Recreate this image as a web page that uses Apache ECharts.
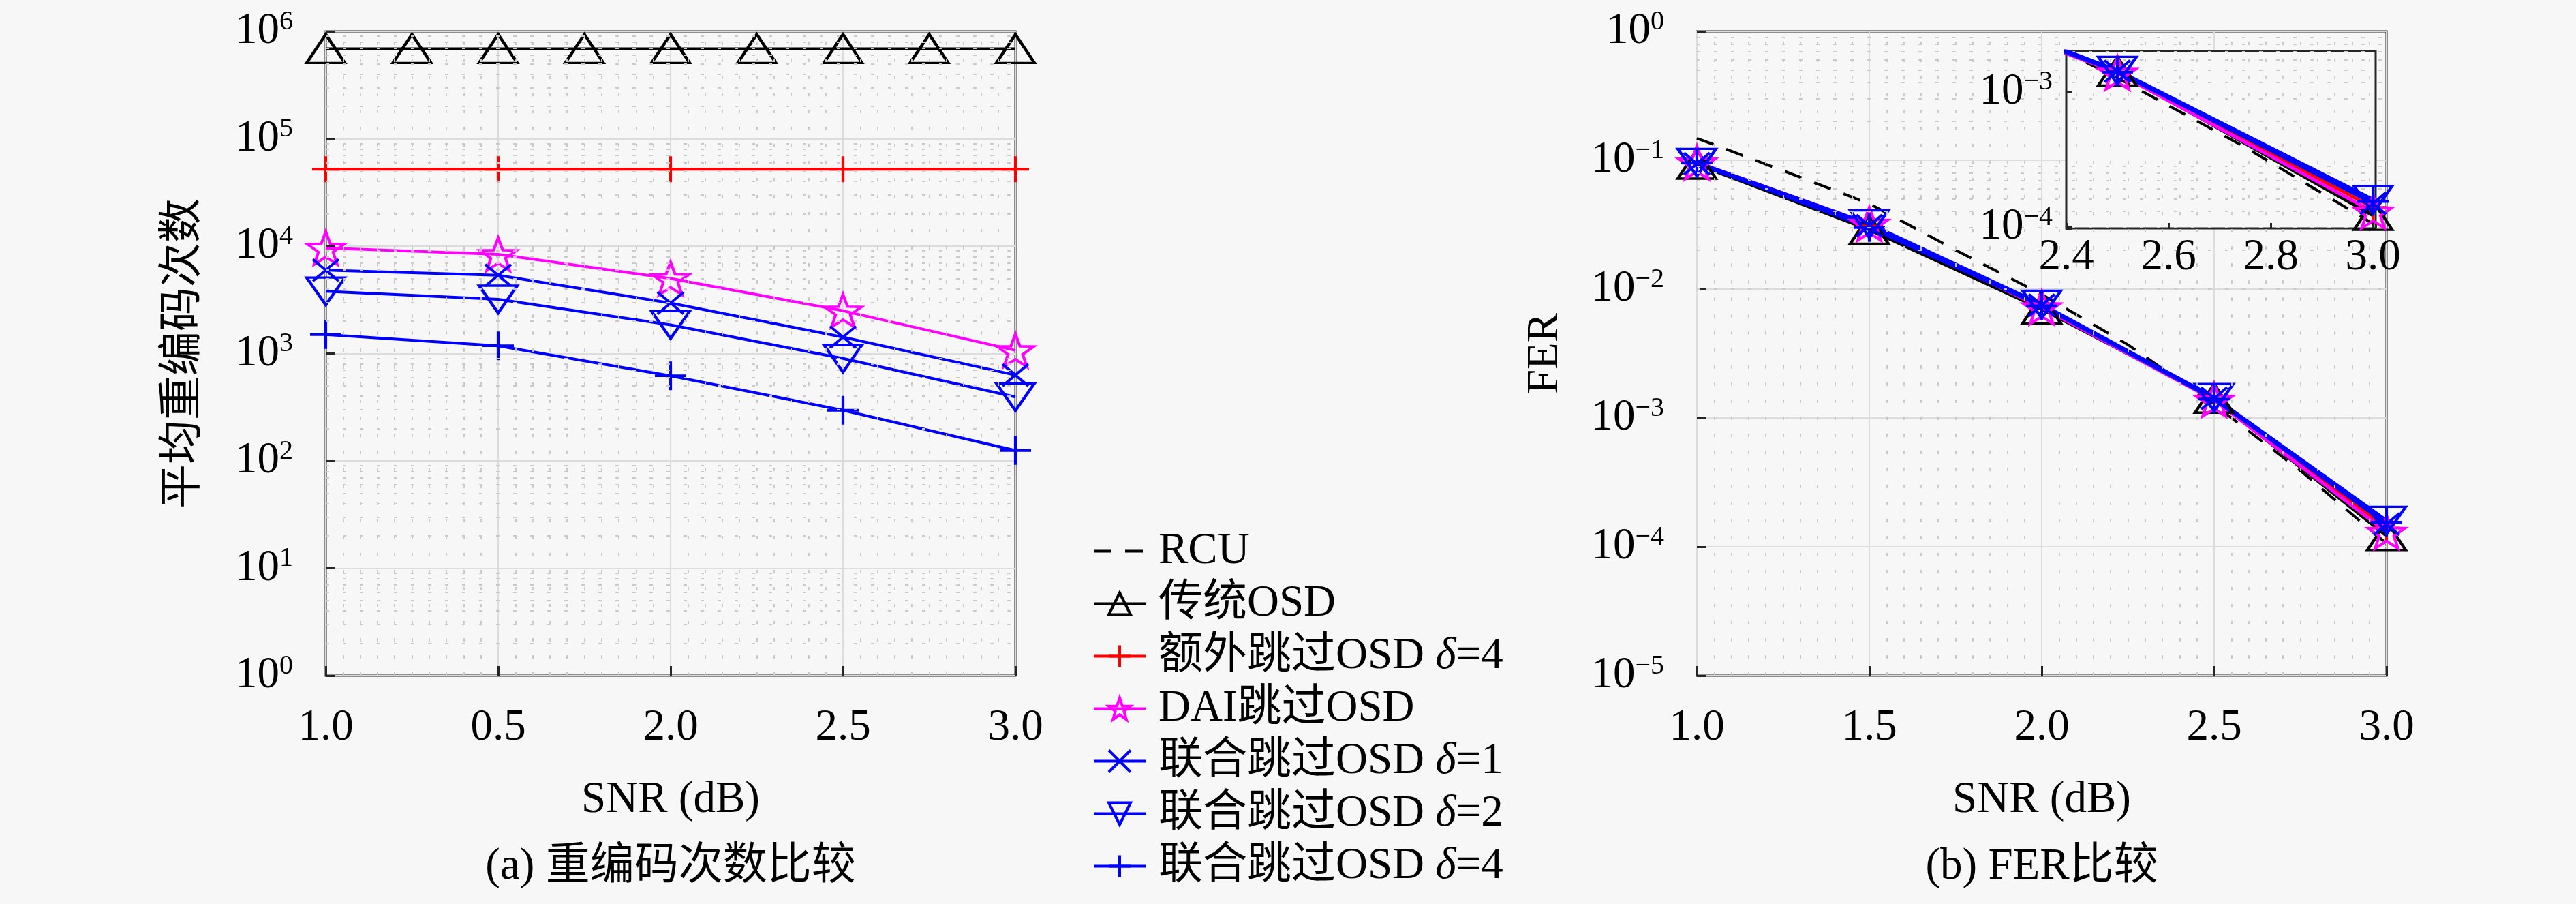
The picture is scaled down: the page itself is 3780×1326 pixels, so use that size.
<!DOCTYPE html>
<html>
<head>
<meta charset="utf-8">
<title>OSD</title>
<script src="https://cdn.jsdelivr.net/npm/echarts@6/dist/echarts.min.js"></script>
<style>
html,body{margin:0;padding:0;background:#f7f7f7}
#main{width:3780px;height:1326px}
</style>
</head>
<body>
<div id="main"></div>
<script>
// x positions
var snr = [1.0, 1.5, 2.0, 2.5, 3.0];
var snrQuarter = [1.0, 1.25, 1.5, 1.75, 2.0, 2.25, 2.5, 2.75, 3.0];
var xTicksA = ['1.0', '0.5', '2.0', '2.5', '3.0'];

// (a) average re-encoding counts
var reTrad = [6.9e5, 6.9e5, 6.9e5, 6.9e5, 6.9e5, 6.9e5, 6.9e5, 6.9e5, 6.9e5];
var reExtra = [5.2e4, 5.2e4, 5.2e4, 5.2e4, 5.2e4];
var reDai = [9600, 8400, 5000, 2500, 1070];
var reJoint1 = [5970, 5350, 2950, 1420, 630];
var reJoint2 = [3800, 3200, 1850, 900, 394];
var reJoint4 = [1500, 1180, 620, 296, 125];

// (b) FER
var ferRcu = [0.148, 0.083, 0.046, 0.0201, 0.0091, 3.7e-3, 1.27e-3, 3.9e-4, 1.06e-4];
var ferTrad = [0.093, 0.029, 0.0070, 1.42e-3, 1.22e-4];
var ferExtra = [0.095, 0.031, 0.0073, 1.40e-3, 1.40e-4];
var ferDai = [0.096, 0.032, 0.0072, 1.38e-3, 1.30e-4];
var ferJoint1 = [0.094, 0.031, 0.0075, 1.42e-3, 1.50e-4];
var ferJoint2 = [0.096, 0.032, 0.0076, 1.44e-3, 1.60e-4];
var ferJoint4 = [0.095, 0.030, 0.0074, 1.40e-3, 1.55e-4];

var names = ['RCU', '传统OSD', '额外跳过OSD δ=4', 'DAI跳过OSD', '联合跳过OSD δ=1', '联合跳过OSD δ=2', '联合跳过OSD δ=4'];

var FONT = '"Liberation Serif", "DejaVu Serif", "Noto Sans CJK SC", serif';
var FS = 65;
var BG = '#f7f7f7';
var AX = '#262626';

function starPath() {
    var p = [];
    for (var k = 0; k < 10; k++) {
        var a = (-90 + k * 36) * Math.PI / 180, r = k % 2 ? 0.4 : 1;
        p.push((k ? 'L' : 'M') + (r * Math.cos(a)).toFixed(3) + ',' + (r * Math.sin(a)).toFixed(3));
    }
    return 'path://' + p.join('') + 'Z';
}

var sty = {};
sty[names[0]] = { color: '#000', symbol: 'none', size: 0, dash: [26, 20] };
sty[names[1]] = { color: '#000', symbol: 'triangle', size: [56, 42] };
sty[names[2]] = { color: '#ff0000', symbol: 'path://M5,0L5,10M0,5L10,5', size: [40, 38] };
sty[names[3]] = { color: '#ff00ff', symbol: starPath(), size: [54, 48] };
sty[names[4]] = { color: '#0000ff', symbol: 'path://M0,0L10,10M10,0L0,10', size: [38, 32] };
sty[names[5]] = { color: '#0000ff', symbol: 'triangle', size: [56, 40], rotate: 180 };
sty[names[6]] = { color: '#0000ff', symbol: 'path://M5,0L5,10M0,5L10,5', size: [46, 42] };

function mk(name, xs, ys, gi, lw, z) {
    var s = sty[name];
    return {
        name: name, type: 'line', xAxisIndex: gi, yAxisIndex: gi,
        data: xs.map(function (x, i) { return [x, ys[i]]; }),
        symbol: s.symbol, symbolSize: s.size, symbolRotate: s.rotate || 0,
        showSymbol: s.symbol !== 'none',
        itemStyle: { color: 'transparent', borderColor: s.color, borderWidth: 4 },
        lineStyle: { color: s.color, width: lw, type: s.dash || 'solid' },
        emphasis: { disabled: true }, animation: false, z: z || 3
    };
}

function minorGrid(gi, xmin, xmax, ymin, ymax) {
    var d = [];
    for (var e = Math.floor(Math.log10(ymin)); e < Math.ceil(Math.log10(ymax)); e++) {
        for (var m = 2; m <= 9; m++) {
            var v = m * Math.pow(10, e);
            if (v > ymin && v < ymax) d.push({ yAxis: v });
        }
    }
    for (var i = 1; xmin + i * 0.05 < xmax - 1e-9; i++) {
        if (i % 10) d.push({ xAxis: +(xmin + i * 0.05).toFixed(2) });
    }
    return {
        type: 'line', xAxisIndex: gi, yAxisIndex: gi, data: [], silent: true, z: 1,
        markLine: {
            silent: true, symbol: ['none', 'none'], label: { show: false }, animation: false,
            lineStyle: { type: [5, 20], color: '#cacaca', width: 2 },
            emphasis: { disabled: true }, data: d
        }
    };
}

function powLabel(v) {
    var e = Math.log10(v);
    if (Math.abs(e - Math.round(e)) > 1e-6) return '';
    e = Math.round(e);
    return '{b|10}{s|' + (e < 0 ? '−' + (-e) : e) + '}';
}
var powRich = {
    b: { fontSize: FS, fontFamily: FONT, color: '#000' },
    s: { fontSize: 40, fontFamily: FONT, color: '#000', verticalAlign: 'top', padding: [0, 0, 28, 0] }
};

function xAx(gi, o) {
    return Object.assign({
        gridIndex: gi, type: 'value', min: 1, max: 3, interval: 0.5,
        axisLine: { show: false },
        axisTick: { inside: true, length: 14, lineStyle: { color: AX, width: 3 } },
        splitLine: { show: true, lineStyle: { color: '#dcdcdc', width: 2 } },
        name: 'SNR (dB)', nameLocation: 'middle', nameGap: 150,
        nameTextStyle: { fontSize: FS, fontFamily: FONT, color: '#000' }
    }, o);
}
function yAx(gi, o) {
    return Object.assign({
        gridIndex: gi, type: 'log', logBase: 10,
        axisLine: { show: false },
        axisTick: { inside: true, length: 14, lineStyle: { color: AX, width: 3 } },
        splitLine: { show: true, lineStyle: { color: '#dcdcdc', width: 2 } },
        axisLabel: { formatter: powLabel, rich: powRich, margin: 48 },
        nameLocation: 'middle',
        nameTextStyle: { fontSize: FS, fontFamily: FONT, color: '#000' }
    }, o);
}

var series = [
    minorGrid(0, 1, 3, 1, 1e6),
    minorGrid(1, 1, 3, 1e-5, 1),
    mk(names[1], snrQuarter, reTrad, 0, 4),
    mk(names[2], snr, reExtra, 0, 4),
    mk(names[3], snr, reDai, 0, 4),
    mk(names[4], snr, reJoint1, 0, 4),
    mk(names[5], snr, reJoint2, 0, 4),
    mk(names[6], snr, reJoint4, 0, 4),
    mk(names[0], snrQuarter, ferRcu, 1, 4),
    mk(names[1], snr, ferTrad, 1, 5),
    mk(names[2], snr, ferExtra, 1, 5),
    mk(names[3], snr, ferDai, 1, 5),
    mk(names[4], snr, ferJoint1, 1, 5),
    mk(names[5], snr, ferJoint2, 1, 5),
    mk(names[6], snr, ferJoint4, 1, 5),
    mk(names[0], snrQuarter, ferRcu, 2, 4, 6),
    mk(names[1], snr, ferTrad, 2, 5, 6),
    mk(names[2], snr, ferExtra, 2, 5, 6),
    mk(names[3], snr, ferDai, 2, 5, 6),
    mk(names[4], snr, ferJoint1, 2, 5, 6),
    mk(names[5], snr, ferJoint2, 2, 5, 6),
    mk(names[6], snr, ferJoint4, 2, 5, 6)
];

var legendData = names.map(function (n) {
    var s = sty[n];
    return {
        name: n,
        itemStyle: s.symbol === 'none'
            ? { color: 'transparent', borderColor: 'transparent', opacity: 0 }
            : { color: 'transparent', borderColor: s.color, borderWidth: 4 },
        lineStyle: { color: s.color, width: 4, type: s.dash || 'solid' }
    };
});

var chart = echarts.init(document.getElementById('main'));
chart.setOption({
    backgroundColor: BG,
    animation: false,
    grid: [
        { left: 478, top: 46, width: 1012, height: 945, show: true, borderColor: AX, borderWidth: 3, backgroundColor: 'transparent' },
        { left: 2490, top: 46, width: 1012, height: 945, show: true, borderColor: AX, borderWidth: 3, backgroundColor: 'transparent' },
        { left: 3032, top: 75, width: 454, height: 260, show: true, borderColor: AX, borderWidth: 3, backgroundColor: BG, z: 4 }
    ],
    xAxis: [
        xAx(0, { axisLabel: { fontSize: FS, fontFamily: FONT, color: '#000', margin: 44,
            formatter: function (v) { return xTicksA[Math.round((v - 1) / 0.5)]; } } }),
        xAx(1, { axisLabel: { fontSize: FS, fontFamily: FONT, color: '#000', margin: 44,
            formatter: function (v) { return v.toFixed(1); } } }),
        xAx(2, { min: 2.4, max: 3.005, interval: 0.2, name: '', z: 5, splitLine: { show: false },
            axisTick: { inside: true, length: 8, lineStyle: { color: AX, width: 3 } },
            axisLabel: { fontSize: FS, fontFamily: FONT, color: '#000', margin: 10,
                formatter: function (v) { return Math.abs(v * 5 - Math.round(v * 5)) < 1e-6 ? v.toFixed(1) : ''; } } })
    ],
    yAxis: [
        yAx(0, { min: 1, max: 1e6, name: '平均重编码次数', nameGap: 176 }),
        yAx(1, { min: 1e-5, max: 1, name: 'FER', nameGap: 190 }),
        yAx(2, { min: 9.8e-5, max: 2e-3, z: 5, splitLine: { show: false },
            axisTick: { inside: true, length: 8, lineStyle: { color: AX, width: 3 } },
            axisLabel: { formatter: powLabel, rich: powRich, margin: 20 } })
    ],
    legend: {
        orient: 'vertical', left: 1603, top: 776, padding: 0,
        itemWidth: 76, itemHeight: 40, itemGap: 12,
        selectedMode: false,
        data: legendData,
        textStyle: { fontSize: FS, fontFamily: FONT, color: '#000', padding: [0, 0, 0, 14],
            rich: { i: { fontSize: FS, fontFamily: FONT, fontStyle: 'italic', color: '#000' } } },
        formatter: function (n) { return n.replace('δ', '{i|δ}'); }
    },
    graphic: [
        { type: 'text', x: 984, y: 1272, style: { text: '(a) 重编码次数比较', font: FS + 'px ' + FONT, fill: '#000', textAlign: 'center', textVerticalAlign: 'middle' } },
        { type: 'text', x: 2996, y: 1272, style: { text: '(b) FER比较', font: FS + 'px ' + FONT, fill: '#000', textAlign: 'center', textVerticalAlign: 'middle' } }
    ],
    series: series
});
</script>
</body>
</html>
